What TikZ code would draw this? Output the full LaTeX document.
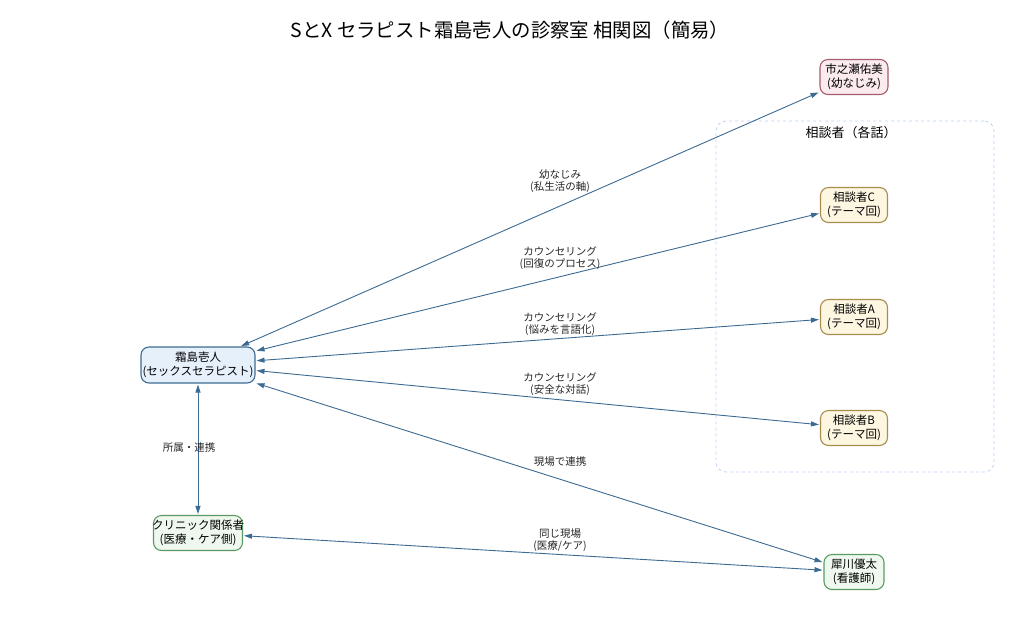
\documentclass[tikz,border=0pt]{standalone}
\usepackage{fontspec}
\setmainfont{Noto Sans CJK JP}
\usetikzlibrary{arrows.meta}
\definecolor{edgec}{RGB}{59,106,147}
\definecolor{sjfill}{RGB}{230,240,250}
\definecolor{sjdraw}{RGB}{61,107,145}
\definecolor{grfill}{RGB}{238,248,238}
\definecolor{grdraw}{RGB}{92,154,100}
\definecolor{pkfill}{RGB}{251,235,239}
\definecolor{pkdraw}{RGB}{166,92,108}
\definecolor{ylfill}{RGB}{253,246,225}
\definecolor{yldraw}{RGB}{168,142,78}
\definecolor{grpc}{RGB}{190,208,240}
\newcommand{\ov}[1]{\makebox[0pt]{#1}}
\tikzset{
  person/.style={draw, rounded corners=8pt, line width=1.1pt, align=center, inner sep=0pt,
    font=\fontsize{11.5}{13.5}\selectfont},
  sjbox/.style={person, fill=sjfill, draw=sjdraw},
  grbox/.style={person, fill=grfill, draw=grdraw},
  pkbox/.style={person, fill=pkfill, draw=pkdraw},
  ylbox/.style={person, fill=ylfill, draw=yldraw},
  edge/.style={draw=edgec, line width=0.9pt, {Triangle[length=8pt,width=5pt]}-{Triangle[length=8pt,width=5pt]}, shorten <=1pt, shorten >=1pt},
  elabel/.style={align=center, inner sep=0pt, font=\fontsize{10.5}{11.5}\selectfont, text=black!85}
}
\begin{document}
\begin{tikzpicture}[x=1pt,y=-1pt]
\useasboundingbox (0,0) rectangle (1024,619);
\node[font=\fontsize{19.4}{23}\selectfont] (title) at (510,30) {SとX セラピスト霜島壱人の診察室 相関図（簡易）};
% group
\node[draw=grpc, dashed, line width=0.8pt, rounded corners=10pt, minimum width=278pt, minimum height=351pt] (grp) at (855,296.5) {};
\node[font=\fontsize{13}{15}\selectfont] (grplabel) at (851,133) {相談者（各話）};
% nodes
\node[sjbox, minimum width=114pt, minimum height=36pt] (sj) at (198,365) {\ov{霜島壱人}\\\ov{(セックスセラピスト)}};
\node[grbox, minimum width=89pt, minimum height=35pt] (cl) at (198,533) {\ov{クリニック関係者}\\\ov{(医療・ケア側)}};
\node[pkbox, minimum width=68pt, minimum height=35pt] (ich) at (854,77) {\ov{市之瀬佑美}\\\ov{(幼なじみ)}};
\node[ylbox, minimum width=67pt, minimum height=35pt] (cc) at (854,205) {\ov{相談者C}\\\ov{(テーマ回)}};
\node[ylbox, minimum width=67pt, minimum height=35pt] (ca) at (854,317) {\ov{相談者A}\\\ov{(テーマ回)}};
\node[ylbox, minimum width=67pt, minimum height=35pt] (cb) at (854,428) {\ov{相談者B}\\\ov{(テーマ回)}};
\node[grbox, minimum width=60pt, minimum height=35pt] (sai) at (854,572) {\ov{犀川優太}\\\ov{(看護師)}};
% edges
\draw[edge] (sj) -- (ich);
\draw[edge] (sj) -- (cc);
\draw[edge] (sj) -- (ca);
\draw[edge] (sj) -- (cb);
\draw[edge] (sj) -- (sai);
\draw[edge] (cl) -- (sai);
\draw[edge] (sj) -- (cl);
% labels
\node[elabel] (l1) at (560,181) {幼なじみ\\(私生活の軸)};
\node[elabel] (l2) at (560,258) {カウンセリング\\(回復のプロセス)};
\node[elabel] (l3) at (560,324) {カウンセリング\\(悩みを言語化)};
\node[elabel] (l4) at (560,384) {カウンセリング\\(安全な対話)};
\node[elabel] (l5) at (560,462) {現場で連携};
\node[elabel] (l6) at (189,448) {所属・連携};
\node[elabel] (l7) at (560,540) {同じ現場\\(医療/ケア)};
\end{tikzpicture}
\end{document}
